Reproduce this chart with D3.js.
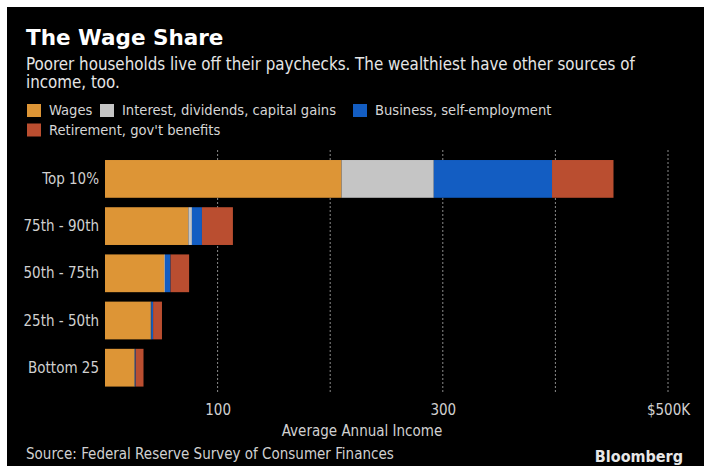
<!DOCTYPE html>
<html>
<head>
<meta charset="utf-8">
<script src="https://cdn.jsdelivr.net/npm/d3@7"></script>
<style>
  body { margin: 0; background: #fff; }
  svg text { font-family: "DejaVu Sans Condensed", "DejaVu Sans", sans-serif; font-stretch: condensed; }
</style>
</head>
<body>
<div id="chart"></div>
<script>
// chart data (thousands of dollars)
var groups = ["Top 10%", "75th - 90th", "50th - 75th", "25th - 50th", "Bottom 25"];
var seriesNames = ["Wages", "Interest, dividends, capital gains", "Business, self-employment", "Retirement, gov't benefits"];
var wages = [210, 74, 52.6, 40.6, 26.2];
var interest = [82, 3.2, 0.7, 0.5, 0.3];
var business = [105, 8.9, 4.9, 1.6, 0.7];
var retirement = [54.6, 27.5, 16.5, 7.9, 7];
var tickValues = [100, 300, 500];
var gridValues = [100, 200, 300, 400, 500];

var svgWidth = 709;
var svgHeight = 466;

var colors = ["#dd9536", "#c5c5c5", "#135dc2", "#ba4e30"];

var svg = d3.select("#chart")
            .append("svg")
            .attr("width", svgWidth)
            .attr("height", svgHeight);

// black panel inside the white border
svg.append("rect")
   .attr("x", 7)
   .attr("y", 7)
   .attr("width", 697)
   .attr("height", 466)
   .attr("fill", "#000");

// title block
svg.append("text")
   .attr("x", 26)
   .attr("y", 45)
   .attr("fill", "#fff")
   .attr("font-size", "21.5px")
   .attr("font-weight", "bold")
   .style("font-family", "'DejaVu Sans', sans-serif")
   .style("font-stretch", "normal")
   .text("The Wage Share");

var subLines = ["Poorer households live off their paychecks. The wealthiest have other sources of", "income, too."];
svg.selectAll(".sub")
   .data(subLines)
   .enter()
   .append("text")
   .attr("class", "sub")
   .attr("x", 26)
   .attr("y", (d, i) => 70 + i * 18)
   .attr("fill", "#e6e6e6")
   .attr("font-size", "16.8px")
   .text(d => d);

// legend
var legendPos = [[27, 104], [100, 104], [353, 104], [27, 123.5]];
var legend = svg.selectAll(".legend")
   .data(seriesNames)
   .enter()
   .append("g")
   .attr("class", "legend")
   .attr("transform", (d, i) => `translate(${legendPos[i][0]}, ${legendPos[i][1]})`);

legend.append("rect")
   .attr("width", 14)
   .attr("height", 13)
   .attr("fill", (d, i) => colors[i]);

legend.append("text")
   .attr("x", 22)
   .attr("y", 11)
   .attr("fill", "#d6d6d6")
   .attr("font-size", "14.6px")
   .text(d => d);

// scales
var xScale = d3.scaleLinear()
   .domain([0, 500])
   .range([105, 668]);

var yScale = d3.scaleBand()
   .domain(groups)
   .range([155.3, 391.3])
   .paddingInner(0.2)
   .paddingOuter(0.1);

// dotted gridlines
svg.append("g")
   .attr("class", "grid")
   .selectAll("line")
   .data(gridValues)
   .enter()
   .append("line")
   .attr("x1", d => xScale(d))
   .attr("x2", d => xScale(d))
   .attr("y1", 150)
   .attr("y2", 394)
   .attr("stroke", "#8a8a8a")
   .attr("stroke-width", 1)
   .attr("stroke-dasharray", "2,2");

// stacked bars
var rows = groups.map(function(g, i) {
  return { group: g, Wages: wages[i], Interest: interest[i], Business: business[i], Retirement: retirement[i] };
});
var keys = ["Wages", "Interest", "Business", "Retirement"];
var stacked = d3.stack().keys(keys)(rows);

svg.append("g")
   .selectAll("g")
   .data(stacked)
   .enter()
   .append("g")
   .attr("fill", (d, i) => colors[i])
   .selectAll("rect")
   .data(d => d)
   .enter()
   .append("rect")
   .attr("x", d => xScale(d[0]))
   .attr("y", d => yScale(d.data.group))
   .attr("width", d => xScale(d[1]) - xScale(d[0]))
   .attr("height", yScale.bandwidth());

// category labels
svg.selectAll(".cat")
   .data(groups)
   .enter()
   .append("text")
   .attr("class", "cat")
   .attr("x", 99)
   .attr("y", d => yScale(d) + yScale.bandwidth() / 2 + 5)
   .attr("text-anchor", "end")
   .attr("fill", "#d0d0d0")
   .attr("font-size", "15px")
   .text(d => d);

// x axis
var bottomAxis = d3.axisBottom(xScale)
   .tickValues(tickValues)
   .tickSize(0)
   .tickFormat(d => d === 500 ? "$500K" : d);

var xAxis = svg.append("g")
   .attr("transform", "translate(0, 398)")
   .call(bottomAxis);
xAxis.select(".domain").remove();
xAxis.selectAll("text")
   .attr("fill", "#d0d0d0")
   .attr("font-size", "15px")
   .attr("dy", "0.9em");

svg.append("text")
   .attr("x", 362)
   .attr("y", 436)
   .attr("text-anchor", "middle")
   .attr("fill", "#d0d0d0")
   .attr("font-size", "15px")
   .text("Average Annual Income");

// footer
svg.append("text")
   .attr("x", 26)
   .attr("y", 459)
   .attr("fill", "#d0d0d0")
   .attr("font-size", "15px")
   .text("Source: Federal Reserve Survey of Consumer Finances");

svg.append("text")
   .attr("x", 683)
   .attr("y", 462)
   .attr("text-anchor", "end")
   .attr("fill", "#e6e6e6")
   .attr("font-size", "16px")
   .attr("font-weight", "bold")
   .text("Bloomberg");
</script>
</body>
</html>
